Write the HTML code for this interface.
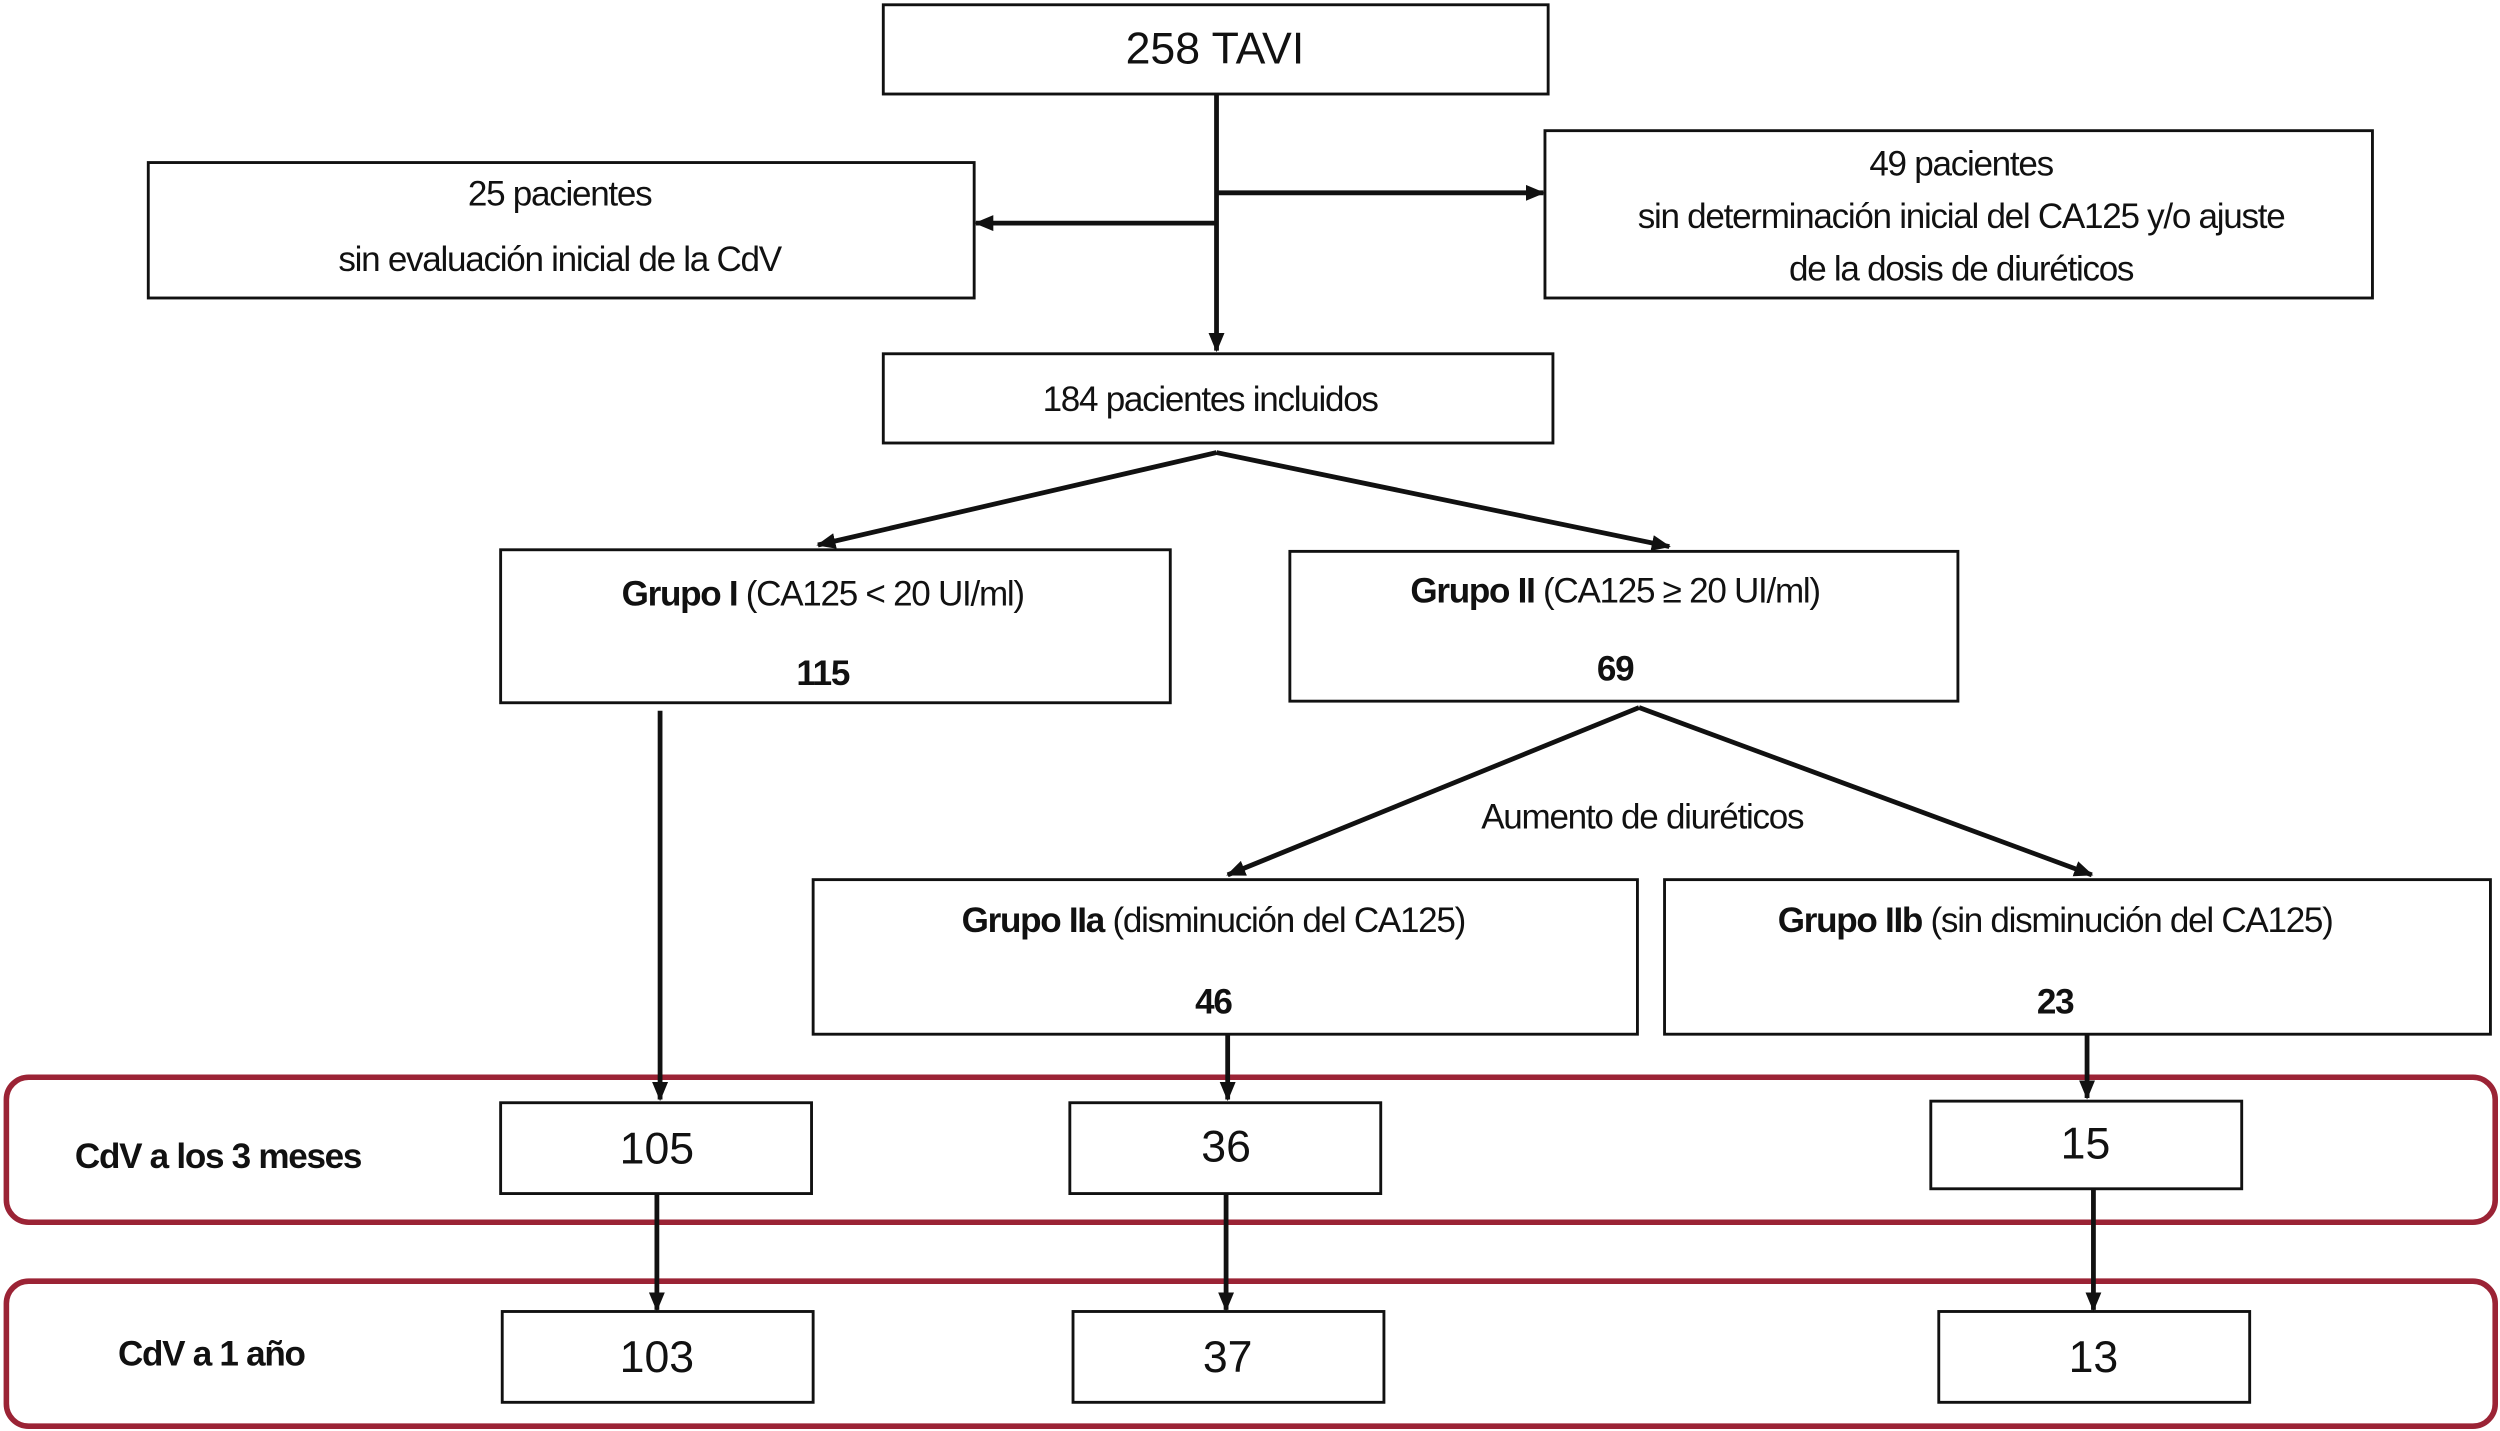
<!DOCTYPE html>
<html><head><meta charset="utf-8"><style>
html,body{margin:0;padding:0;background:#fff;}
svg{display:block;}
text{font-family:"Liberation Sans",Arial,sans-serif;fill:#111;}
</style></head><body>
<svg width="2500" height="1431" viewBox="0 0 1568 898" preserveAspectRatio="none" xmlns="http://www.w3.org/2000/svg">
<defs>
<marker id="a" markerWidth="8" markerHeight="8" refX="7" refY="4" orient="auto" markerUnits="userSpaceOnUse">
<path d="M0,0 L8,4 L0,8 z" fill="#111"/></marker>
<marker id="b" markerWidth="12" markerHeight="10" refX="11" refY="5" orient="auto" markerUnits="userSpaceOnUse">
<path d="M0,0 L12,5 L0,10 z" fill="#111"/></marker>
</defs>
<g fill="none" stroke="#111" stroke-width="1.8">
<rect x="554" y="3" width="417" height="56"/>
<rect x="93" y="102" width="518" height="85"/>
<rect x="969" y="82" width="519" height="105"/>
<rect x="554" y="222" width="420" height="56"/>
<rect x="314" y="345" width="420" height="96"/>
<rect x="809" y="346" width="419" height="94"/>
<rect x="510" y="552" width="517" height="97"/>
<rect x="1044" y="552" width="518" height="97"/>
<rect x="314" y="692" width="195" height="57"/>
<rect x="671" y="692" width="195" height="57"/>
<rect x="1211" y="691" width="195" height="55"/>
<rect x="315" y="823" width="195" height="57"/>
<rect x="673" y="823" width="195" height="57"/>
<rect x="1216" y="823" width="195" height="57"/>
</g>
<g fill="none" stroke="#9b2335" stroke-width="3.5">
<rect x="4" y="676" width="1561" height="91" rx="14"/>
<rect x="4" y="804" width="1561" height="91" rx="14"/>
</g>
<g stroke="#111" stroke-width="3" fill="none">
<line x1="763" y1="59" x2="763" y2="220" marker-end="url(#b)"/>
<line x1="763" y1="140" x2="612" y2="140" marker-end="url(#b)"/>
<line x1="763" y1="121" x2="968" y2="121" marker-end="url(#b)"/>
<line x1="763" y1="284" x2="513" y2="342" marker-end="url(#b)"/>
<line x1="763" y1="284" x2="1047" y2="343" marker-end="url(#b)"/>
<line x1="1028" y1="444" x2="770" y2="549" marker-end="url(#b)"/>
<line x1="1028" y1="444" x2="1312" y2="549" marker-end="url(#b)"/>
<line x1="414" y1="446" x2="414" y2="690" marker-end="url(#b)"/>
<line x1="770" y1="649" x2="770" y2="690" marker-end="url(#b)"/>
<line x1="1309" y1="649" x2="1309" y2="689" marker-end="url(#b)"/>
<line x1="412" y1="749" x2="412" y2="822" marker-end="url(#b)"/>
<line x1="769" y1="749" x2="769" y2="822" marker-end="url(#b)"/>
<line x1="1313" y1="746" x2="1313" y2="822" marker-end="url(#b)"/>
</g>
<g text-anchor="middle" font-size="22" letter-spacing="-0.8">
<text x="762" y="40" font-size="28" letter-spacing="0">258 TAVI</text>
<text x="351" y="129">25 pacientes</text>
<text x="351" y="170">sin evaluación inicial de la CdV</text>
<text x="1230" y="110">49 pacientes</text>
<text x="1230" y="143">sin determinación inicial del CA125 y/o  ajuste</text>
<text x="1230" y="176">de la dosis de diuréticos</text>
<text x="759" y="258">184 pacientes incluidos</text>
<text x="516" y="380"><tspan font-weight="bold">Grupo I</tspan> (CA125 &lt; 20 UI/ml)</text>
<text x="516" y="430" font-weight="bold">115</text>
<text x="1013" y="378"><tspan font-weight="bold">Grupo II</tspan> (CA125 ≥ 20 UI/ml)</text>
<text x="1013" y="427" font-weight="bold">69</text>
<text x="1030" y="520">Aumento de diuréticos</text>
<text x="761" y="585"><tspan font-weight="bold">Grupo IIa</tspan> (disminución del CA125)</text>
<text x="761" y="636" font-weight="bold">46</text>
<text x="1289" y="585"><tspan font-weight="bold">Grupo IIb</tspan> (sin disminución del CA125)</text>
<text x="1289" y="636" font-weight="bold">23</text>
<text x="412" y="730" font-size="28" letter-spacing="0">105</text>
<text x="769" y="729" font-size="28" letter-spacing="0">36</text>
<text x="1308" y="727" font-size="28" letter-spacing="0">15</text>
<text x="412" y="861" font-size="28" letter-spacing="0">103</text>
<text x="770" y="861" font-size="28" letter-spacing="0">37</text>
<text x="1313" y="861" font-size="28" letter-spacing="0">13</text>
</g>
<g font-size="22" font-weight="bold" letter-spacing="-0.8">
<text x="47" y="733">CdV a los 3 meses</text>
<text x="74" y="857">CdV a 1 año</text>
</g>
</svg>
</body></html>
